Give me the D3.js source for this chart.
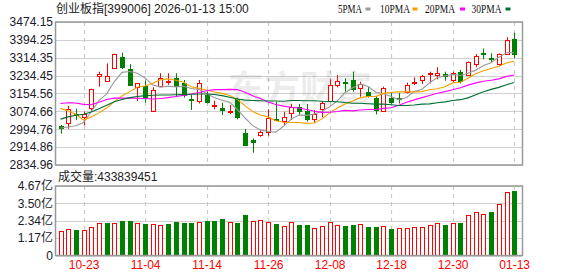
<!DOCTYPE html>
<html><head><meta charset="utf-8">
<script src="https://cdn.jsdelivr.net/npm/d3@7"></script>
<style>body{margin:0;background:#fff}svg{display:block}</style>
</head><body>
<svg id="c" width="578" height="276"></svg>
<script>
const dates = ["10-20","10-21","10-22","10-23","10-24","10-27","10-28","10-29","10-30","10-31",
"11-03","11-04","11-05","11-06","11-07","11-10","11-11","11-12","11-13","11-14",
"11-17","11-18","11-19","11-20","11-21","11-24","11-25","11-26","11-27","11-28",
"12-01","12-02","12-03","12-04","12-05","12-08","12-09","12-10","12-11","12-12",
"12-15","12-16","12-17","12-18","12-19","12-22","12-23","12-24","12-25","12-26",
"12-29","12-30","12-31","01-05","01-06","01-07","01-08","01-09","01-12","01-13"];
const open  = [3010,3021,3062,3048,3088,3234,3212,3270,3316,3262,3185,3188,3076,3190,3206,3222,3203,3128,3122,3148,
3097,3091,3072,3130,2977,2947,2970,2984,3039,3033,3066,3092,3078,3039,3087,3122,3191,3208,3215,3178,
3161,3136,3076,3136,3136,3163,3200,3215,3242,3239,3242,3215,3250,3237,3286,3334,3314,3285,3331,3397];
const high  = [3014,3099,3087,3073,3176,3252,3289,3333,3337,3286,3201,3212,3182,3245,3245,3245,3215,3148,3215,3164,
3122,3113,3103,3136,2996,2954,2991,3084,3118,3073,3108,3108,3108,3081,3122,3218,3237,3222,3252,3207,
3185,3143,3185,3158,3158,3203,3227,3237,3252,3272,3252,3252,3260,3298,3331,3356,3334,3334,3406,3426];
const low   = [2975,2997,3036,3012,3073,3185,3210,3266,3264,3188,3121,3114,3076,3186,3193,3140,3136,3081,3110,3110,
3084,3058,3063,3039,2920,2890,2961,2965,3032,3014,3036,3059,3029,3024,3048,3118,3182,3163,3163,3140,
3136,3061,3073,3108,3110,3155,3193,3197,3200,3218,3212,3203,3200,3234,3272,3307,3294,3279,3327,3312];
const close = [2996,3084,3055,3062,3173,3240,3233,3331,3270,3190,3200,3130,3170,3225,3210,3185,3143,3124,3203,3113,
3103,3076,3078,3046,2921,2932,2981,3043,3033,3051,3092,3073,3036,3063,3110,3193,3210,3205,3170,3197,
3140,3078,3178,3110,3128,3193,3207,3233,3248,3248,3227,3245,3206,3297,3322,3328,3309,3330,3394,3327];
const ma5  = [3000,3005,3010,3025,3074,3123,3153,3208,3249,3253,3245,3224,3192,3183,3187,3184,3187,3177,3173,3154,
3137,3124,3115,3083,3045,3011,2992,2985,2982,3008,3040,3058,3057,3063,3075,3095,3122,3158,3180,3197,
3186,3160,3153,3141,3127,3137,3163,3174,3202,3226,3233,3240,3235,3245,3259,3280,3292,3317,3337,3338];
const ma10 = [3088,3076,3062,3036,3050,3068,3090,3118,3143,3163,3184,3188,3200,3216,3220,3214,3205,3185,3178,3170,
3161,3155,3146,3128,3099,3074,3058,3050,3033,3026,3025,3025,3021,3023,3041,3068,3090,3108,3121,3136,
3141,3141,3155,3160,3162,3162,3162,3163,3171,3176,3185,3202,3205,3223,3243,3256,3266,3276,3291,3299];
const ma20 = [3110,3113,3112,3106,3104,3115,3128,3134,3134,3134,3133,3132,3130,3132,3136,3141,3146,3152,3159,3167,
3172,3172,3173,3172,3160,3144,3132,3117,3105,3098,3093,3090,3083,3075,3070,3071,3074,3079,3077,3081,
3083,3083,3088,3091,3102,3115,3126,3136,3146,3156,3163,3171,3180,3192,3202,3209,3214,3220,3231,3237];
const ma30 = [3040,3050,3057,3062,3072,3086,3102,3118,3128,3136,3141,3145,3147,3148,3148,3149,3150,3151,3152,3152,
3150,3145,3138,3130,3125,3123,3122,3121,3121,3120,3123,3123,3122,3122,3120,3119,3118,3114,3111,3111,
3109,3107,3107,3104,3101,3101,3103,3107,3108,3113,3117,3123,3127,3135,3149,3162,3173,3182,3194,3204];
// volume in 亿
const volume = [1.67,1.80,1.69,1.73,1.91,2.20,2.16,2.20,2.29,2.29,2.20,2.09,2.13,2.07,2.09,2.22,2.16,2.16,2.22,2.29,
2.29,2.42,2.27,2.16,2.69,2.33,2.40,2.27,2.09,2.00,2.22,2.07,2.07,1.87,2.00,2.27,2.07,2.00,2.07,2.13,
1.93,1.93,1.98,1.80,1.85,1.85,1.93,1.93,2.07,2.20,2.07,2.20,2.20,2.74,2.91,2.80,2.94,3.47,4.25,4.34];
const volumeUp = [1,1,0,1,1,1,0,1,0,0,1,0,1,1,0,0,0,0,1,0,
0,0,1,0,0,1,1,1,0,1,1,0,0,1,1,1,1,0,0,1,
0,0,1,0,1,1,1,1,1,1,0,1,0,1,1,1,0,1,1,0];
const priceTicks = [3474.15,3394.25,3314.35,3234.45,3154.56,3074.66,2994.76,2914.86,2834.96];
const volumeTicks = [4.67,3.50,2.34,1.17,0];
const volumeTickLabels = ["4.67亿","3.50亿","2.34亿","1.17亿","0"];
const dateTicks = ["10-23","11-04","11-14","11-26","12-08","12-18","12-30","01-13"];
const maNames = ["5PMA","10PMA","20PMA","30PMA"];
const maColors = ["#999999","#f5a000","#ff00ff","#006e32"];
const title = "创业板指[399006] 2026-01-13 15:00";
const volTitle = "成交量:433839451";

const RED = "#ff0000", GREEN = "#008000";
const svg = d3.select("#c");
const L = 56, R = 522, T = 22, B = 165, VT = 186, VB = 255.5;
const x = d3.scaleLinear().domain([0, dates.length - 1]).range([60.5, 514.2]);
const y = d3.scaleLinear().domain([2834.96, 3474.15]).range([B, T]);
const yv = d3.scaleLinear().domain([0, 4.67]).range([VB, VT]);
const px = i => Math.round(x(i));
const sans = "'Liberation Sans', Arial, 'Noto Sans CJK SC', sans-serif";

// grids
function grid(g, ys, top, bottom) {
  g.selectAll("line.h").data(ys).join("line")
    .attr("x1", L).attr("x2", R)
    .attr("y1", d => Math.round(d) + 0.5).attr("y2", d => Math.round(d) + 0.5)
    .attr("stroke", "#d0d0d0").attr("stroke-width", 1.2);
  g.selectAll("line.v").data(dateTicks).join("line").attr("class", "v")
    .attr("x1", d => px(dates.indexOf(d)) + 0.5).attr("x2", d => px(dates.indexOf(d)) + 0.5)
    .attr("y1", top).attr("y2", bottom)
    .attr("stroke", "#c8c8c8").attr("stroke-dasharray", "4,4").attr("stroke-width", 1.2);
}
grid(svg.append("g"), priceTicks.map(y), T, B);
grid(svg.append("g"), volumeTicks.map(yv), VT, VB);

// watermark
svg.append("text").attr("x", 300).attr("y", 102).attr("text-anchor", "middle")
  .attr("font-family", "'Noto Sans CJK SC', sans-serif").attr("font-size", 36).attr("font-weight", 700)
  .attr("fill", "#000").attr("opacity", 0.07).text("东方财富");

// candles
const cg = svg.append("g");
dates.forEach((d, i) => {
  const o = open[i], c = close[i], h = high[i], l = low[i];
  const cx = px(i);
  const up = c >= o;
  const col = up ? RED : GREEN;
  const yT = Math.round(y(Math.max(o, c))), yB = Math.round(y(Math.min(o, c)));
  if (up) {
    cg.append("line").attr("x1", cx + 0.5).attr("x2", cx + 0.5).attr("y1", y(h)).attr("y2", yT).attr("stroke", col);
    cg.append("line").attr("x1", cx + 0.5).attr("x2", cx + 0.5).attr("y1", yB).attr("y2", y(l)).attr("stroke", col);
    cg.append("rect").attr("x", cx - 1.5).attr("y", yT + 0.5).attr("width", 4).attr("height", Math.max(1, yB - yT))
      .attr("fill", "#fff").attr("stroke", col);
  } else {
    cg.append("line").attr("x1", cx + 0.5).attr("x2", cx + 0.5).attr("y1", y(h)).attr("y2", y(l)).attr("stroke", col);
    cg.append("rect").attr("x", cx - 2).attr("y", yT).attr("width", 5).attr("height", Math.max(2, yB - yT))
      .attr("fill", col);
  }
});

// moving averages
const mas = [ma5, ma10, ma20, ma30];
const line = d3.line().x((d, i) => x(i)).y(d => y(d));
mas.forEach((m, k) => {
  svg.append("path").attr("d", line(m)).attr("fill", "none").attr("stroke", maColors[k]).attr("stroke-width", 1.1);
});

// volume bars
const vg = svg.append("g");
volume.forEach((v, i) => {
  const cx = px(i);
  const top = Math.round(yv(v));
  if (volumeUp[i]) {
    vg.append("rect").attr("x", cx - 1.5).attr("y", top + 0.5).attr("width", 4).attr("height", Math.round(VB) - top - 1)
      .attr("fill", "#fff").attr("stroke", RED);
  } else {
    vg.append("rect").attr("x", cx - 2).attr("y", top).attr("width", 5).attr("height", Math.round(VB) - top)
      .attr("fill", GREEN);
  }
});

// frames
svg.append("rect").attr("x", L - 0.5).attr("y", T).attr("width", R - L + 1).attr("height", B - T)
  .attr("fill", "none").attr("stroke", "#999").attr("stroke-width", 1.5);
svg.append("rect").attr("x", L - 0.5).attr("y", VT).attr("width", R - L + 1).attr("height", VB - VT)
  .attr("fill", "none").attr("stroke", "#999").attr("stroke-width", 1.5);

// axes
const ay = svg.append("g").attr("transform", `translate(${L - 2},0)`)
  .call(d3.axisLeft(y).tickValues(priceTicks).tickFormat(d3.format(".2f")).tickSize(0).tickPadding(1));
const av = svg.append("g").attr("transform", `translate(${L - 2},0)`)
  .call(d3.axisLeft(yv).tickValues(volumeTicks).tickFormat((d, i) => volumeTickLabels[i]).tickSize(0).tickPadding(1));
const ax = svg.append("g").attr("transform", `translate(0,${VB})`)
  .call(d3.axisBottom(x).tickValues(dateTicks.map(d => dates.indexOf(d))).tickFormat(i => dates[i]).tickSize(0).tickPadding(4));
[ay, av, ax].forEach(g => {
  g.select(".domain").remove();
  g.selectAll("text").attr("font-family", sans).attr("font-size", 12);
});
ay.selectAll("text").attr("fill", "#1a1a2a");
av.selectAll("text").attr("fill", "#1a1a2a");
ax.selectAll("text").attr("fill", RED).attr("dy", "0.71em").attr("y", 5);

// title
svg.append("text").attr("x", 56).attr("y", 13).attr("font-family", sans).attr("font-size", 12)
  .attr("fill", "#222").text(title);
svg.append("text").attr("x", 58).attr("y", 181).attr("font-family", sans).attr("font-size", 12)
  .attr("fill", "#222").text(volTitle);

// legend
const legX = [338, 380, 425, 471.5];
const swX = [365.5, 412.5, 460, 505.5];
maNames.forEach((n, k) => {
  svg.append("text").attr("x", legX[k]).attr("y", 12.5)
    .attr("font-family", "'Liberation Serif', 'Times New Roman', serif").attr("font-size", 12)
    .attr("textLength", n.length * 6).attr("lengthAdjust", "spacingAndGlyphs")
    .attr("fill", "#111").text(n);
  svg.append("rect").attr("x", swX[k]).attr("y", 7.5).attr("width", 5).attr("height", 3).attr("fill", maColors[k]);
});
</script>
</body></html>
